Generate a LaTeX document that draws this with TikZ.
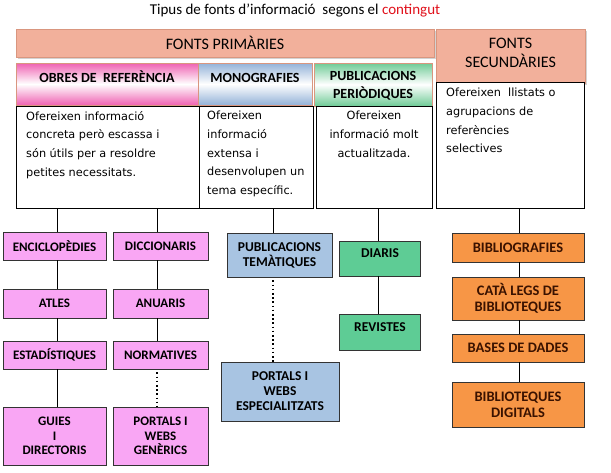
\documentclass[tikz,border=0pt]{standalone}
\usepackage{fontspec}
\setmainfont{Carlito}
\newfontfamily\descfont{DejaVu Sans}
\usetikzlibrary{shadows}
\definecolor{salmon}{HTML}{F2B09B}
\definecolor{salmonedge}{HTML}{D9967F}
\definecolor{pinkfill}{HTML}{F9A6F4}
\definecolor{bluefill}{HTML}{A8C4E2}
\definecolor{greenfill}{HTML}{5ECC95}
\definecolor{orangefill}{HTML}{F79646}
\definecolor{orangetext}{HTML}{3A1200}
\definecolor{hotpink}{HTML}{EF62B2}
\definecolor{gradblue}{HTML}{93B2D8}
\definecolor{gradgreen}{HTML}{6FCB96}
\definecolor{redtxt}{HTML}{E0101A}
\newcommand\bx[7]{\node[#6, minimum width={#4pt-#2pt}, minimum height={#5pt-#3pt}] (#1) at ({(#2+#4)/2},{(#3+#5)/2}) {#7};}
\tikzset{
  x=1pt, y=-1pt,
  base/.style={draw, rectangle, inner sep=0pt, align=center, line width=0.6pt},
  header/.style={base, draw=salmonedge, fill=salmon,
     drop shadow={shadow xshift=1.5pt, shadow yshift=-1.5pt, opacity=0.35}},
  hfont/.style={inner sep=0pt, align=center, font=\fontsize{16}{19}\selectfont},
  grad/.style={base, draw=salmonedge, line width=0.8pt,
     drop shadow={shadow xshift=1.2pt, shadow yshift=-1.2pt, opacity=0.3}},
  gfont/.style={inner sep=0pt, align=center, font=\bfseries\fontsize{14}{18}\selectfont},
  desc/.style={base, draw=black, fill=white},
  dtext/.style={inner sep=0pt, align=left, font=\descfont\fontsize{11.3}{18.7}\selectfont},
  lbl/.style={inner sep=0pt, align=center, font=\bfseries\fontsize{13.5}{15}\selectfont},
  pinkbox/.style={base, draw=black!80, fill=pinkfill, font=\bfseries\fontsize{13}{14.5}\selectfont},
  bluebox/.style={base, draw=black!80, fill=bluefill, font=\bfseries\fontsize{13.5}{15}\selectfont},
  greenbox/.style={base, draw=black!80, fill=greenfill},
  orangebox/.style={base, draw=black!80, fill=orangefill, text=orangetext, font=\bfseries\fontsize{14.5}{16}\selectfont},
  link/.style={draw=black, line width=0.7pt},
  dotlink/.style={draw=black, line width=1.6pt, dash pattern=on 1.6pt off 2.6pt},
}
\begin{document}
\begin{tikzpicture}
\useasboundingbox (0,0) rectangle (611,472);
\node[font=\fontsize{15}{18}\selectfont] (title) at (295,10) {Tipus de fonts d’informació\ \ segons el \textcolor{redtxt}{contingut}};
% headers
\bx{prim}{16}{29}{434}{57}{header}{}
\node[hfont] (primt) at (prim.center) {FONTS PRIMÀRIES};
\bx{sec}{436}{29}{585}{83}{header}{}
\node[hfont] (sect) at (510.5,52.5) {FONTS\\SECUNDÀRIES};
% gradient category boxes
\bx{obres}{16}{63}{198}{105}{grad, top color=hotpink, bottom color=hotpink, middle color=white}{}
\node[gfont] (obrest) at (107,77) {OBRES DE\ \ REFERÈNCIA};
\bx{mono}{198}{63}{312}{105}{grad, top color=gradblue, bottom color=gradblue, middle color=white}{}
\node[gfont] (monot) at (255,78) {MONOGRAFIES};
\bx{peri}{314}{63}{432}{106}{grad, top color=gradgreen, bottom color=gradgreen, middle color=white}{}
\node[gfont] (perit) at (373,86) {PUBLICACIONS\\PERIÒDIQUES};
% description boxes
\bx{d1}{16}{106}{199}{208}{desc}{}
\bx{d2}{199}{106}{313}{208}{desc}{}
\bx{d3}{316}{106}{432}{208}{desc}{}
\bx{d4}{436}{82}{584}{208}{desc}{}
\node[dtext, anchor=north west] (t1) at (26,111) {Ofereixen informació\\concreta però escassa i\\són útils per a resoldre\\petites necessitats.};
\node[dtext, anchor=north west] (t2) at (207,111) {Ofereixen\\informació\\extensa i\\desenvolupen un\\tema específic.};
\node[dtext, anchor=north, align=center] (t3) at (374,111) {Ofereixen\\informació molt\\actualitzada.};
\node[dtext, anchor=north west] (t4) at (446,88) {Ofereixen\ \ llistats o\\agrupacions de\\referències\\selectives};
% pink column 1
\bx{enc}{3}{232}{106}{260}{pinkbox}{ENCICLOPÈDIES}
\bx{atl}{3}{289}{106}{318}{pinkbox}{ATLES}
\bx{est}{3}{341}{106}{369}{pinkbox}{ESTADÍSTIQUES}
\bx{gui}{3}{407}{106}{465}{pinkbox}{GUIES\\I\\DIRECTORIS}
% pink column 2
\bx{dic}{113}{232}{208}{260}{pinkbox}{DICCIONARIS}
\bx{anu}{113}{289}{208}{318}{pinkbox}{ANUARIS}
\bx{nor}{113}{341}{208}{369}{pinkbox}{NORMATIVES}
\bx{pwg}{113}{407}{208}{465}{pinkbox}{PORTALS I\\WEBS\\GENÈRICS}
% blue
\bx{ptem}{227}{233}{332}{277}{bluebox}{PUBLICACIONS\\TEMÀTIQUES}
\bx{pwe}{221}{362}{339}{421}{bluebox}{PORTALS I\\WEBS\\ESPECIALITZATS}
% green
\bx{dia}{339}{241}{420}{276}{greenbox}{}
\node[lbl] (diat) at (380,253) {DIARIS};
\bx{rev}{339}{314}{420}{350}{greenbox}{}
\node[lbl] (revt) at (380,327) {REVISTES};
% orange
\bx{bib}{452}{233}{584}{262}{orangebox}{BIBLIOGRAFIES}
\bx{cat}{452}{277}{584}{320}{orangebox}{CATÀ LEGS DE\\BIBLIOTEQUES}
\bx{bas}{452}{334}{584}{362}{orangebox}{BASES DE DADES}
\bx{bid}{452}{382}{584}{427}{orangebox}{BIBLIOTEQUES\\DIGITALS}
% connectors
\coordinate (c1) at (57,208);
\coordinate (c2) at (157,208);
\coordinate (c3) at (273,208);
\coordinate (c4) at (378,208);
\coordinate (c5) at (519,208);
\draw[link] (c1) -- (c1 |- enc.north);
\draw[link] (c1 |- enc.south) -- (c1 |- atl.north);
\draw[link] (c1 |- atl.south) -- (c1 |- est.north);
\draw[link] (c1 |- est.south) -- (c1 |- gui.north);
\draw[link] (c2) -- (c2 |- dic.north);
\draw[link] (c2 |- dic.south) -- (c2 |- anu.north);
\draw[link] (c2 |- anu.south) -- (c2 |- nor.north);
\draw[dotlink] (c2 |- nor.south) ++(0,3) -- (c2 |- pwg.north);
\draw[link] (c3) -- (c3 |- ptem.north);
\draw[dotlink] (c3 |- ptem.south) ++(0,3) -- (c3 |- pwe.north);
\draw[link] (c4) -- (c4 |- dia.north);
\draw[link] (c4 |- dia.south) -- (c4 |- rev.north);
\draw[link] (c5) -- (c5 |- bib.north);
\draw[link] (c5 |- bib.south) -- (c5 |- cat.north);
\draw[link] (c5 |- cat.south) -- (c5 |- bas.north);
\draw[link] (c5 |- bas.south) -- (c5 |- bid.north);
\end{tikzpicture}
\end{document}
